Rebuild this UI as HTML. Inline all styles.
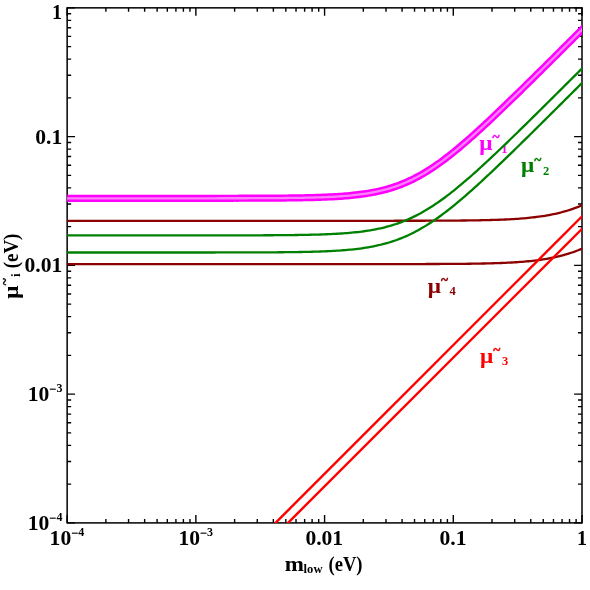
<!DOCTYPE html>
<html><head><meta charset="utf-8"><title>plot</title>
<style>html,body{margin:0;padding:0;background:#fff;}body{width:590px;height:590px;overflow:hidden;}svg{display:block;will-change:transform;}text{font-family:"Liberation Serif",serif;font-weight:bold;}</style>
</head><body>
<svg width="590" height="590" viewBox="0 0 590 590">
<rect width="590" height="590" fill="#ffffff"/>
<defs><clipPath id="c"><rect x="67.15" y="7.85" width="514.85" height="515.05"/></clipPath></defs>
<g stroke="#000" fill="none" stroke-linecap="butt">
<rect x="67.15" y="7.85" width="514.85" height="515.05" stroke-width="1.5"/>
<path d="M67.15,522.9 v-7.9 M67.15,7.85 v7.9 M67.15,522.90 h7.9 M582.0,522.90 h-7.9 M105.90,522.9 v-4.0 M105.90,7.85 v4.0 M67.15,484.14 h4.0 M582.0,484.14 h-4.0 M128.56,522.9 v-4.0 M128.56,7.85 v4.0 M67.15,461.46 h4.0 M582.0,461.46 h-4.0 M144.64,522.9 v-4.0 M144.64,7.85 v4.0 M67.15,445.38 h4.0 M582.0,445.38 h-4.0 M157.12,522.9 v-4.0 M157.12,7.85 v4.0 M67.15,432.90 h4.0 M582.0,432.90 h-4.0 M167.31,522.9 v-4.0 M167.31,7.85 v4.0 M67.15,422.70 h4.0 M582.0,422.70 h-4.0 M175.92,522.9 v-4.0 M175.92,7.85 v4.0 M67.15,414.08 h4.0 M582.0,414.08 h-4.0 M183.39,522.9 v-4.0 M183.39,7.85 v4.0 M67.15,406.62 h4.0 M582.0,406.62 h-4.0 M189.97,522.9 v-4.0 M189.97,7.85 v4.0 M67.15,400.03 h4.0 M582.0,400.03 h-4.0 M195.86,522.9 v-7.9 M195.86,7.85 v7.9 M67.15,394.14 h7.9 M582.0,394.14 h-7.9 M234.61,522.9 v-4.0 M234.61,7.85 v4.0 M67.15,355.38 h4.0 M582.0,355.38 h-4.0 M257.27,522.9 v-4.0 M257.27,7.85 v4.0 M67.15,332.70 h4.0 M582.0,332.70 h-4.0 M273.36,522.9 v-4.0 M273.36,7.85 v4.0 M67.15,316.61 h4.0 M582.0,316.61 h-4.0 M285.83,522.9 v-4.0 M285.83,7.85 v4.0 M67.15,304.14 h4.0 M582.0,304.14 h-4.0 M296.02,522.9 v-4.0 M296.02,7.85 v4.0 M67.15,293.94 h4.0 M582.0,293.94 h-4.0 M304.64,522.9 v-4.0 M304.64,7.85 v4.0 M67.15,285.32 h4.0 M582.0,285.32 h-4.0 M312.10,522.9 v-4.0 M312.10,7.85 v4.0 M67.15,277.85 h4.0 M582.0,277.85 h-4.0 M318.69,522.9 v-4.0 M318.69,7.85 v4.0 M67.15,271.27 h4.0 M582.0,271.27 h-4.0 M324.58,522.9 v-7.9 M324.58,7.85 v7.9 M67.15,265.38 h7.9 M582.0,265.38 h-7.9 M363.32,522.9 v-4.0 M363.32,7.85 v4.0 M67.15,226.61 h4.0 M582.0,226.61 h-4.0 M385.99,522.9 v-4.0 M385.99,7.85 v4.0 M67.15,203.94 h4.0 M582.0,203.94 h-4.0 M402.07,522.9 v-4.0 M402.07,7.85 v4.0 M67.15,187.85 h4.0 M582.0,187.85 h-4.0 M414.54,522.9 v-4.0 M414.54,7.85 v4.0 M67.15,175.37 h4.0 M582.0,175.37 h-4.0 M424.73,522.9 v-4.0 M424.73,7.85 v4.0 M67.15,165.18 h4.0 M582.0,165.18 h-4.0 M433.35,522.9 v-4.0 M433.35,7.85 v4.0 M67.15,156.56 h4.0 M582.0,156.56 h-4.0 M440.81,522.9 v-4.0 M440.81,7.85 v4.0 M67.15,149.09 h4.0 M582.0,149.09 h-4.0 M447.40,522.9 v-4.0 M447.40,7.85 v4.0 M67.15,142.50 h4.0 M582.0,142.50 h-4.0 M453.29,522.9 v-7.9 M453.29,7.85 v7.9 M67.15,136.61 h7.9 M582.0,136.61 h-7.9 M492.03,522.9 v-4.0 M492.03,7.85 v4.0 M67.15,97.85 h4.0 M582.0,97.85 h-4.0 M514.70,522.9 v-4.0 M514.70,7.85 v4.0 M67.15,75.18 h4.0 M582.0,75.18 h-4.0 M530.78,522.9 v-4.0 M530.78,7.85 v4.0 M67.15,59.09 h4.0 M582.0,59.09 h-4.0 M543.25,522.9 v-4.0 M543.25,7.85 v4.0 M67.15,46.61 h4.0 M582.0,46.61 h-4.0 M553.45,522.9 v-4.0 M553.45,7.85 v4.0 M67.15,36.42 h4.0 M582.0,36.42 h-4.0 M562.06,522.9 v-4.0 M562.06,7.85 v4.0 M67.15,27.80 h4.0 M582.0,27.80 h-4.0 M569.53,522.9 v-4.0 M569.53,7.85 v4.0 M67.15,20.33 h4.0 M582.0,20.33 h-4.0 M576.11,522.9 v-4.0 M576.11,7.85 v4.0 M67.15,13.74 h4.0 M582.0,13.74 h-4.0 M582.00,522.9 v-7.9 M582.00,7.85 v7.9 M67.15,7.85 h7.9 M582.0,7.85 h-7.9" stroke-width="1.4"/>
</g>
<g fill="#ff00ff"><text x="479.30" y="150.00" font-size="20" textLength="13.2" lengthAdjust="spacingAndGlyphs">μ</text><text x="492.60" y="141.30" font-size="13.5" stroke="#ff00ff" stroke-width="0.5">~</text><text x="501.20" y="152.50" font-size="12.5">1</text></g>
<g fill="#008000"><text x="521.00" y="172.40" font-size="20" textLength="13.2" lengthAdjust="spacingAndGlyphs">μ</text><text x="534.30" y="163.70" font-size="13.5" stroke="#008000" stroke-width="0.5">~</text><text x="542.90" y="174.90" font-size="12.5">2</text></g>
<g fill="#8b0000"><text x="427.70" y="292.90" font-size="20" textLength="13.2" lengthAdjust="spacingAndGlyphs">μ</text><text x="441.00" y="284.20" font-size="13.5" stroke="#8b0000" stroke-width="0.5">~</text><text x="449.60" y="295.40" font-size="12.5">4</text></g>
<g fill="#ff0000"><text x="480.00" y="362.50" font-size="20" textLength="13.2" lengthAdjust="spacingAndGlyphs">μ</text><text x="493.30" y="353.80" font-size="13.5" stroke="#ff0000" stroke-width="0.5">~</text><text x="501.90" y="365.00" font-size="12.5">3</text></g>
<g clip-path="url(#c)" fill="none" stroke-linejoin="round">
<path d="M54.28,220.80 L56.36,220.80 L58.44,220.80 L60.52,220.80 L62.60,220.80 L64.67,220.80 L66.75,220.80 L68.83,220.80 L70.91,220.80 L72.99,220.80 L75.07,220.80 L77.15,220.80 L79.23,220.80 L81.31,220.80 L83.39,220.80 L85.47,220.80 L87.55,220.80 L89.63,220.80 L91.70,220.80 L93.78,220.80 L95.86,220.80 L97.94,220.80 L100.02,220.80 L102.10,220.80 L104.18,220.80 L106.26,220.80 L108.34,220.80 L110.42,220.80 L112.50,220.80 L114.58,220.80 L116.65,220.80 L118.73,220.80 L120.81,220.80 L122.89,220.80 L124.97,220.80 L127.05,220.80 L129.13,220.80 L131.21,220.80 L133.29,220.80 L135.37,220.80 L137.45,220.80 L139.53,220.80 L141.61,220.80 L143.68,220.80 L145.76,220.80 L147.84,220.80 L149.92,220.80 L152.00,220.80 L154.08,220.80 L156.16,220.80 L158.24,220.80 L160.32,220.80 L162.40,220.80 L164.48,220.80 L166.56,220.80 L168.63,220.80 L170.71,220.80 L172.79,220.80 L174.87,220.80 L176.95,220.80 L179.03,220.80 L181.11,220.80 L183.19,220.80 L185.27,220.80 L187.35,220.80 L189.43,220.80 L191.51,220.80 L193.59,220.80 L195.66,220.80 L197.74,220.80 L199.82,220.80 L201.90,220.80 L203.98,220.80 L206.06,220.80 L208.14,220.80 L210.22,220.80 L212.30,220.80 L214.38,220.80 L216.46,220.80 L218.54,220.80 L220.61,220.80 L222.69,220.80 L224.77,220.80 L226.85,220.80 L228.93,220.80 L231.01,220.80 L233.09,220.80 L235.17,220.80 L237.25,220.80 L239.33,220.80 L241.41,220.80 L243.49,220.80 L245.57,220.80 L247.64,220.80 L249.72,220.80 L251.80,220.80 L253.88,220.80 L255.96,220.80 L258.04,220.80 L260.12,220.80 L262.20,220.80 L264.28,220.80 L266.36,220.80 L268.44,220.80 L270.52,220.80 L272.59,220.80 L274.67,220.80 L276.75,220.80 L278.83,220.80 L280.91,220.80 L282.99,220.80 L285.07,220.80 L287.15,220.80 L289.23,220.80 L291.31,220.80 L293.39,220.80 L295.47,220.80 L297.55,220.80 L299.62,220.80 L301.70,220.80 L303.78,220.80 L305.86,220.80 L307.94,220.80 L310.02,220.80 L312.10,220.80 L314.18,220.80 L316.26,220.80 L318.34,220.80 L320.42,220.80 L322.50,220.80 L324.58,220.80 L326.65,220.80 L328.73,220.80 L330.81,220.80 L332.89,220.80 L334.97,220.80 L337.05,220.80 L339.13,220.80 L341.21,220.80 L343.29,220.80 L345.37,220.80 L347.45,220.80 L349.53,220.79 L351.60,220.79 L353.68,220.79 L355.76,220.79 L357.84,220.79 L359.92,220.79 L362.00,220.79 L364.08,220.79 L366.16,220.79 L368.24,220.79 L370.32,220.79 L372.40,220.79 L374.48,220.79 L376.56,220.79 L378.63,220.79 L380.71,220.78 L382.79,220.78 L384.87,220.78 L386.95,220.78 L389.03,220.78 L391.11,220.78 L393.19,220.78 L395.27,220.77 L397.35,220.77 L399.43,220.77 L401.51,220.77 L403.58,220.77 L405.66,220.76 L407.74,220.76 L409.82,220.76 L411.90,220.75 L413.98,220.75 L416.06,220.75 L418.14,220.74 L420.22,220.74 L422.30,220.73 L424.38,220.73 L426.46,220.72 L428.54,220.71 L430.61,220.71 L432.69,220.70 L434.77,220.69 L436.85,220.69 L438.93,220.68 L441.01,220.67 L443.09,220.66 L445.17,220.65 L447.25,220.63 L449.33,220.62 L451.41,220.61 L453.49,220.59 L455.56,220.58 L457.64,220.56 L459.72,220.54 L461.80,220.52 L463.88,220.50 L465.96,220.48 L468.04,220.45 L470.12,220.42 L472.20,220.40 L474.28,220.36 L476.36,220.33 L478.44,220.30 L480.52,220.26 L482.59,220.22 L484.67,220.17 L486.75,220.12 L488.83,220.07 L490.91,220.02 L492.99,219.96 L495.07,219.89 L497.15,219.82 L499.23,219.75 L501.31,219.67 L503.39,219.58 L505.47,219.49 L507.54,219.39 L509.62,219.29 L511.70,219.17 L513.78,219.05 L515.86,218.92 L517.94,218.78 L520.02,218.63 L522.10,218.47 L524.18,218.30 L526.26,218.11 L528.34,217.92 L530.42,217.71 L532.50,217.48 L534.57,217.24 L536.65,216.98 L538.73,216.71 L540.81,216.42 L542.89,216.11 L544.97,215.77 L547.05,215.42 L549.13,215.05 L551.21,214.65 L553.29,214.22 L555.37,213.77 L557.45,213.30 L559.52,212.79 L561.60,212.26 L563.68,211.70 L565.76,211.11 L567.84,210.48 L569.92,209.82 L572.00,209.13 L574.08,208.40 L576.16,207.64 L578.24,206.84 L580.32,206.00 L582.40,205.13 L584.48,204.22 L586.55,203.27 L588.63,202.28 L590.71,201.25 L592.79,200.19 L594.87,199.09" stroke="#8b0000" stroke-width="2.3"/>
<path d="M54.28,264.10 L56.36,264.10 L58.44,264.10 L60.52,264.10 L62.60,264.10 L64.67,264.10 L66.75,264.10 L68.83,264.10 L70.91,264.10 L72.99,264.10 L75.07,264.10 L77.15,264.10 L79.23,264.10 L81.31,264.10 L83.39,264.10 L85.47,264.10 L87.55,264.10 L89.63,264.10 L91.70,264.10 L93.78,264.10 L95.86,264.10 L97.94,264.10 L100.02,264.10 L102.10,264.10 L104.18,264.10 L106.26,264.10 L108.34,264.10 L110.42,264.10 L112.50,264.10 L114.58,264.10 L116.65,264.10 L118.73,264.10 L120.81,264.10 L122.89,264.10 L124.97,264.10 L127.05,264.10 L129.13,264.10 L131.21,264.10 L133.29,264.10 L135.37,264.10 L137.45,264.10 L139.53,264.10 L141.61,264.10 L143.68,264.10 L145.76,264.10 L147.84,264.10 L149.92,264.10 L152.00,264.10 L154.08,264.10 L156.16,264.10 L158.24,264.10 L160.32,264.10 L162.40,264.10 L164.48,264.10 L166.56,264.10 L168.63,264.10 L170.71,264.10 L172.79,264.10 L174.87,264.10 L176.95,264.10 L179.03,264.10 L181.11,264.10 L183.19,264.10 L185.27,264.10 L187.35,264.10 L189.43,264.10 L191.51,264.10 L193.59,264.10 L195.66,264.10 L197.74,264.10 L199.82,264.10 L201.90,264.10 L203.98,264.10 L206.06,264.10 L208.14,264.10 L210.22,264.10 L212.30,264.10 L214.38,264.10 L216.46,264.10 L218.54,264.10 L220.61,264.10 L222.69,264.10 L224.77,264.10 L226.85,264.10 L228.93,264.10 L231.01,264.10 L233.09,264.10 L235.17,264.10 L237.25,264.10 L239.33,264.10 L241.41,264.10 L243.49,264.10 L245.57,264.10 L247.64,264.10 L249.72,264.10 L251.80,264.10 L253.88,264.10 L255.96,264.10 L258.04,264.10 L260.12,264.10 L262.20,264.10 L264.28,264.10 L266.36,264.10 L268.44,264.10 L270.52,264.10 L272.59,264.10 L274.67,264.10 L276.75,264.10 L278.83,264.10 L280.91,264.10 L282.99,264.10 L285.07,264.10 L287.15,264.10 L289.23,264.10 L291.31,264.10 L293.39,264.10 L295.47,264.10 L297.55,264.10 L299.62,264.10 L301.70,264.10 L303.78,264.10 L305.86,264.10 L307.94,264.10 L310.02,264.10 L312.10,264.10 L314.18,264.10 L316.26,264.10 L318.34,264.10 L320.42,264.10 L322.50,264.10 L324.58,264.10 L326.65,264.10 L328.73,264.10 L330.81,264.10 L332.89,264.10 L334.97,264.10 L337.05,264.10 L339.13,264.10 L341.21,264.10 L343.29,264.10 L345.37,264.10 L347.45,264.10 L349.53,264.09 L351.60,264.09 L353.68,264.09 L355.76,264.09 L357.84,264.09 L359.92,264.09 L362.00,264.09 L364.08,264.09 L366.16,264.09 L368.24,264.09 L370.32,264.09 L372.40,264.09 L374.48,264.09 L376.56,264.09 L378.63,264.09 L380.71,264.08 L382.79,264.08 L384.87,264.08 L386.95,264.08 L389.03,264.08 L391.11,264.08 L393.19,264.08 L395.27,264.07 L397.35,264.07 L399.43,264.07 L401.51,264.07 L403.58,264.07 L405.66,264.06 L407.74,264.06 L409.82,264.06 L411.90,264.05 L413.98,264.05 L416.06,264.05 L418.14,264.04 L420.22,264.04 L422.30,264.03 L424.38,264.03 L426.46,264.02 L428.54,264.02 L430.61,264.01 L432.69,264.00 L434.77,263.99 L436.85,263.99 L438.93,263.98 L441.01,263.97 L443.09,263.96 L445.17,263.95 L447.25,263.94 L449.33,263.92 L451.41,263.91 L453.49,263.89 L455.56,263.88 L457.64,263.86 L459.72,263.84 L461.80,263.82 L463.88,263.80 L465.96,263.78 L468.04,263.75 L470.12,263.73 L472.20,263.70 L474.28,263.67 L476.36,263.64 L478.44,263.60 L480.52,263.56 L482.59,263.52 L484.67,263.48 L486.75,263.43 L488.83,263.38 L490.91,263.32 L492.99,263.26 L495.07,263.20 L497.15,263.13 L499.23,263.06 L501.31,262.98 L503.39,262.89 L505.47,262.80 L507.54,262.70 L509.62,262.60 L511.70,262.49 L513.78,262.37 L515.86,262.24 L517.94,262.10 L520.02,261.95 L522.10,261.79 L524.18,261.62 L526.26,261.44 L528.34,261.24 L530.42,261.03 L532.50,260.81 L534.57,260.57 L536.65,260.31 L538.73,260.04 L540.81,259.75 L542.89,259.44 L544.97,259.11 L547.05,258.76 L549.13,258.39 L551.21,257.99 L553.29,257.57 L555.37,257.13 L557.45,256.65 L559.52,256.15 L561.60,255.62 L563.68,255.07 L565.76,254.48 L567.84,253.85 L569.92,253.20 L572.00,252.51 L574.08,251.79 L576.16,251.03 L578.24,250.23 L580.32,249.40 L582.40,248.53 L584.48,247.62 L586.55,246.68 L588.63,245.70 L590.71,244.67 L592.79,243.61 L594.87,242.51" stroke="#8b0000" stroke-width="2.3"/>
<path d="M54.28,235.40 L56.36,235.40 L58.44,235.40 L60.52,235.40 L62.60,235.40 L64.67,235.40 L66.75,235.40 L68.83,235.40 L70.91,235.40 L72.99,235.40 L75.07,235.40 L77.15,235.40 L79.23,235.40 L81.31,235.40 L83.39,235.40 L85.47,235.40 L87.55,235.40 L89.63,235.40 L91.70,235.40 L93.78,235.40 L95.86,235.40 L97.94,235.40 L100.02,235.40 L102.10,235.40 L104.18,235.40 L106.26,235.40 L108.34,235.40 L110.42,235.40 L112.50,235.40 L114.58,235.40 L116.65,235.40 L118.73,235.40 L120.81,235.40 L122.89,235.40 L124.97,235.40 L127.05,235.40 L129.13,235.40 L131.21,235.40 L133.29,235.40 L135.37,235.40 L137.45,235.40 L139.53,235.40 L141.61,235.40 L143.68,235.40 L145.76,235.40 L147.84,235.40 L149.92,235.40 L152.00,235.40 L154.08,235.40 L156.16,235.40 L158.24,235.40 L160.32,235.40 L162.40,235.40 L164.48,235.40 L166.56,235.40 L168.63,235.40 L170.71,235.40 L172.79,235.40 L174.87,235.39 L176.95,235.39 L179.03,235.39 L181.11,235.39 L183.19,235.39 L185.27,235.39 L187.35,235.39 L189.43,235.39 L191.51,235.39 L193.59,235.39 L195.66,235.39 L197.74,235.39 L199.82,235.39 L201.90,235.39 L203.98,235.39 L206.06,235.38 L208.14,235.38 L210.22,235.38 L212.30,235.38 L214.38,235.38 L216.46,235.38 L218.54,235.38 L220.61,235.37 L222.69,235.37 L224.77,235.37 L226.85,235.37 L228.93,235.36 L231.01,235.36 L233.09,235.36 L235.17,235.36 L237.25,235.35 L239.33,235.35 L241.41,235.34 L243.49,235.34 L245.57,235.34 L247.64,235.33 L249.72,235.33 L251.80,235.32 L253.88,235.31 L255.96,235.31 L258.04,235.30 L260.12,235.29 L262.20,235.28 L264.28,235.27 L266.36,235.26 L268.44,235.25 L270.52,235.24 L272.59,235.23 L274.67,235.22 L276.75,235.20 L278.83,235.19 L280.91,235.17 L282.99,235.15 L285.07,235.14 L287.15,235.12 L289.23,235.09 L291.31,235.07 L293.39,235.04 L295.47,235.02 L297.55,234.99 L299.62,234.96 L301.70,234.92 L303.78,234.89 L305.86,234.85 L307.94,234.80 L310.02,234.76 L312.10,234.71 L314.18,234.66 L316.26,234.60 L318.34,234.54 L320.42,234.48 L322.50,234.41 L324.58,234.33 L326.65,234.25 L328.73,234.16 L330.81,234.07 L332.89,233.97 L334.97,233.86 L337.05,233.75 L339.13,233.62 L341.21,233.49 L343.29,233.35 L345.37,233.19 L347.45,233.03 L349.53,232.86 L351.60,232.67 L353.68,232.47 L355.76,232.25 L357.84,232.03 L359.92,231.78 L362.00,231.52 L364.08,231.24 L366.16,230.94 L368.24,230.63 L370.32,230.29 L372.40,229.93 L374.48,229.55 L376.56,229.15 L378.63,228.72 L380.71,228.26 L382.79,227.78 L384.87,227.27 L386.95,226.73 L389.03,226.16 L391.11,225.56 L393.19,224.93 L395.27,224.26 L397.35,223.56 L399.43,222.82 L401.51,222.05 L403.58,221.24 L405.66,220.40 L407.74,219.52 L409.82,218.60 L411.90,217.64 L413.98,216.64 L416.06,215.60 L418.14,214.53 L420.22,213.42 L422.30,212.26 L424.38,211.08 L426.46,209.85 L428.54,208.58 L430.61,207.28 L432.69,205.95 L434.77,204.57 L436.85,203.17 L438.93,201.73 L441.01,200.25 L443.09,198.75 L445.17,197.22 L447.25,195.65 L449.33,194.06 L451.41,192.44 L453.49,190.80 L455.56,189.13 L457.64,187.43 L459.72,185.71 L461.80,183.98 L463.88,182.22 L465.96,180.44 L468.04,178.64 L470.12,176.82 L472.20,174.99 L474.28,173.14 L476.36,171.28 L478.44,169.40 L480.52,167.51 L482.59,165.61 L484.67,163.70 L486.75,161.77 L488.83,159.84 L490.91,157.89 L492.99,155.94 L495.07,153.97 L497.15,152.00 L499.23,150.02 L501.31,148.04 L503.39,146.05 L505.47,144.05 L507.54,142.05 L509.62,140.04 L511.70,138.02 L513.78,136.00 L515.86,133.98 L517.94,131.96 L520.02,129.93 L522.10,127.89 L524.18,125.85 L526.26,123.81 L528.34,121.77 L530.42,119.73 L532.50,117.68 L534.57,115.63 L536.65,113.57 L538.73,111.52 L540.81,109.46 L542.89,107.41 L544.97,105.35 L547.05,103.29 L549.13,101.22 L551.21,99.16 L553.29,97.10 L555.37,95.03 L557.45,92.96 L559.52,90.90 L561.60,88.83 L563.68,86.76 L565.76,84.69 L567.84,82.62 L569.92,80.55 L572.00,78.47 L574.08,76.40 L576.16,74.33 L578.24,72.25 L580.32,70.18 L582.40,68.10 L584.48,66.03 L586.55,63.95 L588.63,61.88 L590.71,59.80 L592.79,57.73 L594.87,55.65" stroke="#008000" stroke-width="2.3"/>
<path d="M54.28,252.50 L56.36,252.50 L58.44,252.50 L60.52,252.50 L62.60,252.50 L64.67,252.50 L66.75,252.50 L68.83,252.50 L70.91,252.50 L72.99,252.50 L75.07,252.50 L77.15,252.50 L79.23,252.50 L81.31,252.50 L83.39,252.50 L85.47,252.50 L87.55,252.50 L89.63,252.50 L91.70,252.50 L93.78,252.50 L95.86,252.50 L97.94,252.50 L100.02,252.50 L102.10,252.50 L104.18,252.50 L106.26,252.50 L108.34,252.50 L110.42,252.50 L112.50,252.50 L114.58,252.50 L116.65,252.50 L118.73,252.50 L120.81,252.50 L122.89,252.50 L124.97,252.50 L127.05,252.50 L129.13,252.50 L131.21,252.50 L133.29,252.50 L135.37,252.50 L137.45,252.50 L139.53,252.50 L141.61,252.50 L143.68,252.50 L145.76,252.50 L147.84,252.50 L149.92,252.50 L152.00,252.50 L154.08,252.50 L156.16,252.50 L158.24,252.50 L160.32,252.50 L162.40,252.50 L164.48,252.50 L166.56,252.50 L168.63,252.50 L170.71,252.50 L172.79,252.49 L174.87,252.49 L176.95,252.49 L179.03,252.49 L181.11,252.49 L183.19,252.49 L185.27,252.49 L187.35,252.49 L189.43,252.49 L191.51,252.49 L193.59,252.49 L195.66,252.49 L197.74,252.49 L199.82,252.49 L201.90,252.49 L203.98,252.48 L206.06,252.48 L208.14,252.48 L210.22,252.48 L212.30,252.48 L214.38,252.48 L216.46,252.47 L218.54,252.47 L220.61,252.47 L222.69,252.47 L224.77,252.47 L226.85,252.46 L228.93,252.46 L231.01,252.46 L233.09,252.45 L235.17,252.45 L237.25,252.45 L239.33,252.44 L241.41,252.44 L243.49,252.43 L245.57,252.43 L247.64,252.42 L249.72,252.42 L251.80,252.41 L253.88,252.40 L255.96,252.40 L258.04,252.39 L260.12,252.38 L262.20,252.37 L264.28,252.36 L266.36,252.35 L268.44,252.34 L270.52,252.33 L272.59,252.31 L274.67,252.30 L276.75,252.28 L278.83,252.27 L280.91,252.25 L282.99,252.23 L285.07,252.21 L287.15,252.19 L289.23,252.16 L291.31,252.14 L293.39,252.11 L295.47,252.08 L297.55,252.05 L299.62,252.01 L301.70,251.98 L303.78,251.94 L305.86,251.89 L307.94,251.85 L310.02,251.80 L312.10,251.74 L314.18,251.69 L316.26,251.62 L318.34,251.56 L320.42,251.49 L322.50,251.41 L324.58,251.33 L326.65,251.24 L328.73,251.14 L330.81,251.04 L332.89,250.93 L334.97,250.81 L337.05,250.69 L339.13,250.55 L341.21,250.41 L343.29,250.25 L345.37,250.09 L347.45,249.91 L349.53,249.72 L351.60,249.52 L353.68,249.30 L355.76,249.06 L357.84,248.82 L359.92,248.55 L362.00,248.27 L364.08,247.97 L366.16,247.65 L368.24,247.30 L370.32,246.94 L372.40,246.55 L374.48,246.14 L376.56,245.71 L378.63,245.24 L380.71,244.75 L382.79,244.24 L384.87,243.69 L386.95,243.11 L389.03,242.50 L391.11,241.86 L393.19,241.19 L395.27,240.48 L397.35,239.73 L399.43,238.95 L401.51,238.13 L403.58,237.28 L405.66,236.39 L407.74,235.46 L409.82,234.49 L411.90,233.48 L413.98,232.44 L416.06,231.35 L418.14,230.23 L420.22,229.07 L422.30,227.87 L424.38,226.63 L426.46,225.36 L428.54,224.05 L430.61,222.70 L432.69,221.32 L434.77,219.91 L436.85,218.46 L438.93,216.98 L441.01,215.47 L443.09,213.92 L445.17,212.35 L447.25,210.75 L449.33,209.13 L451.41,207.48 L453.49,205.80 L455.56,204.10 L457.64,202.38 L459.72,200.63 L461.80,198.87 L463.88,197.08 L465.96,195.28 L468.04,193.46 L470.12,191.63 L472.20,189.77 L474.28,187.91 L476.36,186.03 L478.44,184.13 L480.52,182.23 L482.59,180.31 L484.67,178.38 L486.75,176.44 L488.83,174.50 L490.91,172.54 L492.99,170.58 L495.07,168.60 L497.15,166.62 L499.23,164.64 L501.31,162.64 L503.39,160.64 L505.47,158.64 L507.54,156.63 L509.62,154.61 L511.70,152.59 L513.78,150.57 L515.86,148.54 L517.94,146.51 L520.02,144.48 L522.10,142.44 L524.18,140.40 L526.26,138.35 L528.34,136.31 L530.42,134.26 L532.50,132.21 L534.57,130.16 L536.65,128.10 L538.73,126.04 L540.81,123.99 L542.89,121.93 L544.97,119.86 L547.05,117.80 L549.13,115.74 L551.21,113.67 L553.29,111.61 L555.37,109.54 L557.45,107.47 L559.52,105.40 L561.60,103.33 L563.68,101.26 L565.76,99.19 L567.84,97.12 L569.92,95.05 L572.00,92.98 L574.08,90.90 L576.16,88.83 L578.24,86.75 L580.32,84.68 L582.40,82.60 L584.48,80.53 L586.55,78.45 L588.63,76.38 L590.71,74.30 L592.79,72.22 L594.87,70.15" stroke="#008000" stroke-width="2.3"/>
<path d="M265.50,532.90 L592.00,206.40" stroke="#ff0000" stroke-width="2.4"/>
<path d="M278.00,532.90 L592.00,218.90" stroke="#ff0000" stroke-width="2.4"/>
<path d="M54.28,198.30 L56.36,198.30 L58.44,198.30 L60.52,198.30 L62.60,198.30 L64.67,198.30 L66.75,198.30 L68.83,198.30 L70.91,198.30 L72.99,198.30 L75.07,198.30 L77.15,198.30 L79.23,198.30 L81.31,198.30 L83.39,198.30 L85.47,198.30 L87.55,198.30 L89.63,198.30 L91.70,198.30 L93.78,198.30 L95.86,198.30 L97.94,198.30 L100.02,198.30 L102.10,198.30 L104.18,198.30 L106.26,198.30 L108.34,198.30 L110.42,198.30 L112.50,198.30 L114.58,198.30 L116.65,198.30 L118.73,198.30 L120.81,198.30 L122.89,198.30 L124.97,198.30 L127.05,198.30 L129.13,198.30 L131.21,198.30 L133.29,198.30 L135.37,198.30 L137.45,198.30 L139.53,198.30 L141.61,198.30 L143.68,198.30 L145.76,198.30 L147.84,198.30 L149.92,198.30 L152.00,198.30 L154.08,198.30 L156.16,198.30 L158.24,198.30 L160.32,198.30 L162.40,198.30 L164.48,198.30 L166.56,198.30 L168.63,198.30 L170.71,198.30 L172.79,198.29 L174.87,198.29 L176.95,198.29 L179.03,198.29 L181.11,198.29 L183.19,198.29 L185.27,198.29 L187.35,198.29 L189.43,198.29 L191.51,198.29 L193.59,198.29 L195.66,198.29 L197.74,198.29 L199.82,198.29 L201.90,198.29 L203.98,198.28 L206.06,198.28 L208.14,198.28 L210.22,198.28 L212.30,198.28 L214.38,198.28 L216.46,198.28 L218.54,198.27 L220.61,198.27 L222.69,198.27 L224.77,198.27 L226.85,198.26 L228.93,198.26 L231.01,198.26 L233.09,198.26 L235.17,198.25 L237.25,198.25 L239.33,198.24 L241.41,198.24 L243.49,198.24 L245.57,198.23 L247.64,198.23 L249.72,198.22 L251.80,198.21 L253.88,198.21 L255.96,198.20 L258.04,198.19 L260.12,198.18 L262.20,198.18 L264.28,198.17 L266.36,198.16 L268.44,198.14 L270.52,198.13 L272.59,198.12 L274.67,198.11 L276.75,198.09 L278.83,198.07 L280.91,198.06 L282.99,198.04 L285.07,198.02 L287.15,198.00 L289.23,197.97 L291.31,197.95 L293.39,197.92 L295.47,197.89 L297.55,197.86 L299.62,197.83 L301.70,197.79 L303.78,197.75 L305.86,197.71 L307.94,197.67 L310.02,197.62 L312.10,197.57 L314.18,197.51 L316.26,197.45 L318.34,197.38 L320.42,197.31 L322.50,197.24 L324.58,197.16 L326.65,197.07 L328.73,196.98 L330.81,196.88 L332.89,196.78 L334.97,196.66 L337.05,196.54 L339.13,196.41 L341.21,196.27 L343.29,196.11 L345.37,195.95 L347.45,195.78 L349.53,195.59 L351.60,195.40 L353.68,195.18 L355.76,194.96 L357.84,194.71 L359.92,194.46 L362.00,194.18 L364.08,193.88 L366.16,193.57 L368.24,193.24 L370.32,192.88 L372.40,192.50 L374.48,192.10 L376.56,191.68 L378.63,191.23 L380.71,190.75 L382.79,190.24 L384.87,189.70 L386.95,189.14 L389.03,188.54 L391.11,187.91 L393.19,187.25 L395.27,186.55 L397.35,185.82 L399.43,185.06 L401.51,184.25 L403.58,183.41 L405.66,182.54 L407.74,181.62 L409.82,180.67 L411.90,179.67 L413.98,178.64 L416.06,177.57 L418.14,176.47 L420.22,175.32 L422.30,174.13 L424.38,172.91 L426.46,171.65 L428.54,170.36 L430.61,169.02 L432.69,167.66 L434.77,166.26 L436.85,164.82 L438.93,163.35 L441.01,161.85 L443.09,160.32 L445.17,158.76 L447.25,157.17 L449.33,155.56 L451.41,153.92 L453.49,152.25 L455.56,150.56 L457.64,148.84 L459.72,147.11 L461.80,145.35 L463.88,143.57 L465.96,141.78 L468.04,139.97 L470.12,138.14 L472.20,136.29 L474.28,134.43 L476.36,132.55 L478.44,130.66 L480.52,128.76 L482.59,126.85 L484.67,124.93 L486.75,122.99 L488.83,121.05 L490.91,119.10 L492.99,117.13 L495.07,115.16 L497.15,113.19 L499.23,111.20 L501.31,109.21 L503.39,107.21 L505.47,105.21 L507.54,103.20 L509.62,101.19 L511.70,99.17 L513.78,97.15 L515.86,95.12 L517.94,93.09 L520.02,91.06 L522.10,89.02 L524.18,86.98 L526.26,84.94 L528.34,82.90 L530.42,80.85 L532.50,78.80 L534.57,76.75 L536.65,74.69 L538.73,72.64 L540.81,70.58 L542.89,68.52 L544.97,66.46 L547.05,64.40 L549.13,62.33 L551.21,60.27 L553.29,58.20 L555.37,56.14 L557.45,54.07 L559.52,52.00 L561.60,49.93 L563.68,47.86 L565.76,45.79 L567.84,43.72 L569.92,41.65 L572.00,39.58 L574.08,37.50 L576.16,35.43 L578.24,33.35 L580.32,31.28 L582.40,29.20 L584.48,27.13 L586.55,25.05 L588.63,22.98 L590.71,20.90 L592.79,18.83 L594.87,16.75" stroke="#ff00ff" stroke-width="7.25"/>
<path d="M54.28,198.30 L56.36,198.30 L58.44,198.30 L60.52,198.30 L62.60,198.30 L64.67,198.30 L66.75,198.30 L68.83,198.30 L70.91,198.30 L72.99,198.30 L75.07,198.30 L77.15,198.30 L79.23,198.30 L81.31,198.30 L83.39,198.30 L85.47,198.30 L87.55,198.30 L89.63,198.30 L91.70,198.30 L93.78,198.30 L95.86,198.30 L97.94,198.30 L100.02,198.30 L102.10,198.30 L104.18,198.30 L106.26,198.30 L108.34,198.30 L110.42,198.30 L112.50,198.30 L114.58,198.30 L116.65,198.30 L118.73,198.30 L120.81,198.30 L122.89,198.30 L124.97,198.30 L127.05,198.30 L129.13,198.30 L131.21,198.30 L133.29,198.30 L135.37,198.30 L137.45,198.30 L139.53,198.30 L141.61,198.30 L143.68,198.30 L145.76,198.30 L147.84,198.30 L149.92,198.30 L152.00,198.30 L154.08,198.30 L156.16,198.30 L158.24,198.30 L160.32,198.30 L162.40,198.30 L164.48,198.30 L166.56,198.30 L168.63,198.30 L170.71,198.30 L172.79,198.29 L174.87,198.29 L176.95,198.29 L179.03,198.29 L181.11,198.29 L183.19,198.29 L185.27,198.29 L187.35,198.29 L189.43,198.29 L191.51,198.29 L193.59,198.29 L195.66,198.29 L197.74,198.29 L199.82,198.29 L201.90,198.29 L203.98,198.28 L206.06,198.28 L208.14,198.28 L210.22,198.28 L212.30,198.28 L214.38,198.28 L216.46,198.28 L218.54,198.27 L220.61,198.27 L222.69,198.27 L224.77,198.27 L226.85,198.26 L228.93,198.26 L231.01,198.26 L233.09,198.26 L235.17,198.25 L237.25,198.25 L239.33,198.24 L241.41,198.24 L243.49,198.24 L245.57,198.23 L247.64,198.23 L249.72,198.22 L251.80,198.21 L253.88,198.21 L255.96,198.20 L258.04,198.19 L260.12,198.18 L262.20,198.18 L264.28,198.17 L266.36,198.16 L268.44,198.14 L270.52,198.13 L272.59,198.12 L274.67,198.11 L276.75,198.09 L278.83,198.07 L280.91,198.06 L282.99,198.04 L285.07,198.02 L287.15,198.00 L289.23,197.97 L291.31,197.95 L293.39,197.92 L295.47,197.89 L297.55,197.86 L299.62,197.83 L301.70,197.79 L303.78,197.75 L305.86,197.71 L307.94,197.67 L310.02,197.62 L312.10,197.57 L314.18,197.51 L316.26,197.45 L318.34,197.38 L320.42,197.31 L322.50,197.24 L324.58,197.16 L326.65,197.07 L328.73,196.98 L330.81,196.88 L332.89,196.78 L334.97,196.66 L337.05,196.54 L339.13,196.41 L341.21,196.27 L343.29,196.11 L345.37,195.95 L347.45,195.78 L349.53,195.59 L351.60,195.40 L353.68,195.18 L355.76,194.96 L357.84,194.71 L359.92,194.46 L362.00,194.18 L364.08,193.88 L366.16,193.57 L368.24,193.24 L370.32,192.88 L372.40,192.50 L374.48,192.10 L376.56,191.68 L378.63,191.23 L380.71,190.75 L382.79,190.24 L384.87,189.70 L386.95,189.14 L389.03,188.54 L391.11,187.91 L393.19,187.25 L395.27,186.55 L397.35,185.82 L399.43,185.06 L401.51,184.25 L403.58,183.41 L405.66,182.54 L407.74,181.62 L409.82,180.67 L411.90,179.67 L413.98,178.64 L416.06,177.57 L418.14,176.47 L420.22,175.32 L422.30,174.13 L424.38,172.91 L426.46,171.65 L428.54,170.36 L430.61,169.02 L432.69,167.66 L434.77,166.26 L436.85,164.82 L438.93,163.35 L441.01,161.85 L443.09,160.32 L445.17,158.76 L447.25,157.17 L449.33,155.56 L451.41,153.92 L453.49,152.25 L455.56,150.56 L457.64,148.84 L459.72,147.11 L461.80,145.35 L463.88,143.57 L465.96,141.78 L468.04,139.97 L470.12,138.14 L472.20,136.29 L474.28,134.43 L476.36,132.55 L478.44,130.66 L480.52,128.76 L482.59,126.85 L484.67,124.93 L486.75,122.99 L488.83,121.05 L490.91,119.10 L492.99,117.13 L495.07,115.16 L497.15,113.19 L499.23,111.20 L501.31,109.21 L503.39,107.21 L505.47,105.21 L507.54,103.20 L509.62,101.19 L511.70,99.17 L513.78,97.15 L515.86,95.12 L517.94,93.09 L520.02,91.06 L522.10,89.02 L524.18,86.98 L526.26,84.94 L528.34,82.90 L530.42,80.85 L532.50,78.80 L534.57,76.75 L536.65,74.69 L538.73,72.64 L540.81,70.58 L542.89,68.52 L544.97,66.46 L547.05,64.40 L549.13,62.33 L551.21,60.27 L553.29,58.20 L555.37,56.14 L557.45,54.07 L559.52,52.00 L561.60,49.93 L563.68,47.86 L565.76,45.79 L567.84,43.72 L569.92,41.65 L572.00,39.58 L574.08,37.50 L576.16,35.43 L578.24,33.35 L580.32,31.28 L582.40,29.20 L584.48,27.13 L586.55,25.05 L588.63,22.98 L590.71,20.90 L592.79,18.83 L594.87,16.75" stroke="#ff80ff" stroke-width="2.3"/>
</g>
<g fill="#000">
<text transform="translate(62.00,19.00) scale(1.0,1)" font-size="20" text-anchor="end">1</text>
<text transform="translate(62.30,144.00) scale(1.08,1)" font-size="20" text-anchor="end">0.1</text>
<text transform="translate(62.30,271.60) scale(1.08,1)" font-size="20" text-anchor="end">0.01</text>
<text transform="translate(27.80,400.80) scale(1.08,1)" font-size="20" text-anchor="start">10</text><text transform="translate(49.60,391.90) scale(1.0,1)" font-size="12" text-anchor="start"><tspan dy="0.9" stroke="#000" stroke-width="0.3">−</tspan><tspan dy="-0.9">3</tspan></text>
<text transform="translate(27.80,529.90) scale(1.08,1)" font-size="20" text-anchor="start">10</text><text transform="translate(49.60,521.00) scale(1.0,1)" font-size="12" text-anchor="start"><tspan dy="0.9" stroke="#000" stroke-width="0.3">−</tspan><tspan dy="-0.9">4</tspan></text>
<text transform="translate(49.60,544.70) scale(1.08,1)" font-size="20" text-anchor="start">10</text><text transform="translate(71.40,535.80) scale(1.0,1)" font-size="12" text-anchor="start"><tspan dy="0.9" stroke="#000" stroke-width="0.3">−</tspan><tspan dy="-0.9">4</tspan></text>
<text transform="translate(178.40,544.70) scale(1.08,1)" font-size="20" text-anchor="start">10</text><text transform="translate(200.20,535.80) scale(1.0,1)" font-size="12" text-anchor="start"><tspan dy="0.9" stroke="#000" stroke-width="0.3">−</tspan><tspan dy="-0.9">3</tspan></text>
<text transform="translate(324.28,544.70) scale(1.08,1)" font-size="20" text-anchor="middle">0.01</text>
<text transform="translate(452.99,544.70) scale(1.08,1)" font-size="20" text-anchor="middle">0.1</text>
<text transform="translate(582.10,544.70) scale(1.0,1)" font-size="20" text-anchor="middle">1</text>
<text transform="translate(284.80,570.80) scale(1.15,1)" font-size="20" text-anchor="start">m</text>
<text transform="translate(303.60,573.00) scale(1.05,1)" font-size="12" text-anchor="start">low</text>
<text x="328.5" y="570.8" font-size="20" textLength="34" lengthAdjust="spacingAndGlyphs">(eV)</text>
<g transform="translate(18,298.8) rotate(-90)">
<text x="0" y="0" font-size="20" textLength="13.2" lengthAdjust="spacingAndGlyphs">μ</text>
<text x="13.6" y="-9.3" font-size="13.5" stroke="#000" stroke-width="0.4">~</text>
<text x="21.8" y="2.0" font-size="13">i</text>
<text x="30.6" y="0" font-size="20" textLength="34.6" lengthAdjust="spacingAndGlyphs">(eV)</text>
</g>
</g>
</svg></body></html>
